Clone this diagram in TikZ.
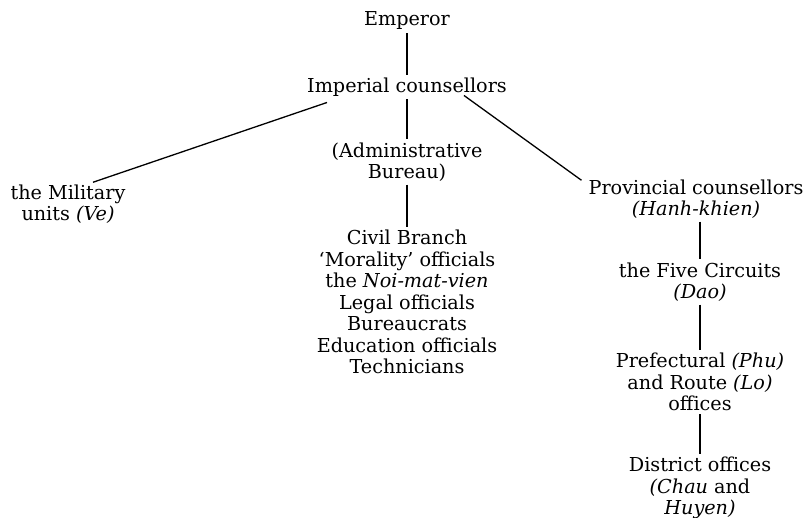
\documentclass[tikz,border=0pt]{standalone}
\usepackage{fontspec}
\setmainfont{DejaVu Serif}
\usetikzlibrary{calc}
\begin{document}
\begin{tikzpicture}[x=1pt,y=-1pt,
  lbl/.style={inner xsep=0pt,inner ysep=3pt,align=center,font=\fontsize{19.2}{21.5}\selectfont},
  conn/.style={draw,line width=1.3pt}]
\useasboundingbox (0,0) rectangle (805,518);
\node[lbl] (emp) at (407,21) {Emperor};
\node[lbl] (imp) at (407,87) {Imperial counsellors};
\node[lbl] (mil) at (68,204) {the Military\\units \textit{(Ve)}};
\node[lbl] (adm) at (407,162) {(Administrative\\Bureau)};
\node[lbl] (civ) at (407,302) {Civil Branch\\‘Morality’ officials\\the \textit{Noi-mat-vien}\\Legal officials\\Bureaucrats\\Education officials\\Technicians};
\node[lbl] (prov) at (696,199) {Provincial counsellors\\\textit{(Hanh-khien)}};
\node[lbl] (five) at (700,282) {the Five Circuits\\\textit{(Dao)}};
\node[lbl] (pref) at (700,382) {Prefectural \textit{(Phu)}\\and Route \textit{(Lo)}\\offices};
\node[lbl] (dist) at (700,488) {District offices\\\textit{(Chau} and\\\textit{Huyen)}};
\draw[conn] (emp.south) -- (imp.north);
\draw[conn] ($(imp.south west)+(20,3)$) -- ($(mil.north)+(25,1)$);
\draw[conn] (imp.south) -- (adm.north);
\draw[conn] ($(imp.south east)+(-43,-4)$) -- ($(prov.north west)+(-7,4)$);
\draw[conn] (adm.south) -- (civ.north);
\draw[conn] (prov.south -| five.north) -- (five.north);
\draw[conn] (five.south) -- (pref.north);
\draw[conn] (pref.south) -- (dist.north);
\end{tikzpicture}
\end{document}
